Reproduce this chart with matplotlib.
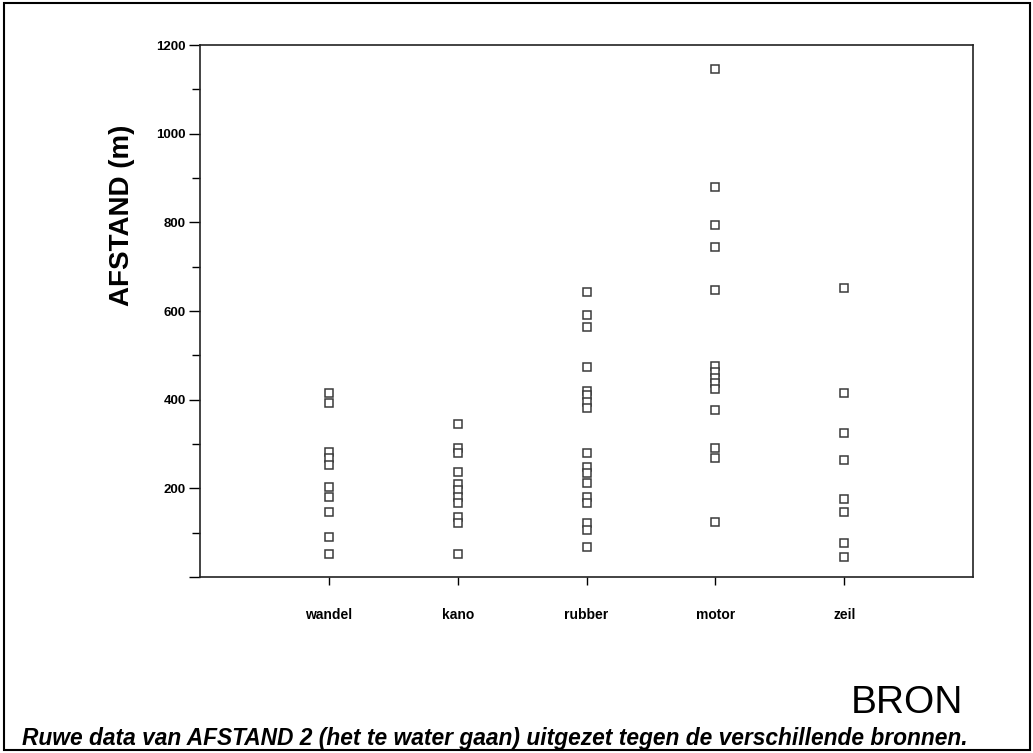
import numpy as np
import matplotlib.pyplot as plt
from matplotlib.patches import Rectangle

plt.rcParams['font.family'] = ['Liberation Sans', 'DejaVu Sans']

# bronnen en afstanden (m)
bron = ["wandel", "kano", "rubber", "motor", "zeil"]
wandel = [414, 392, 283, 268, 253, 204, 181, 147, 91, 53]
kano = [345, 292, 280, 237, 210, 196, 181, 166, 136, 121, 53]
rubber = [644, 592, 565, 474, 420, 410, 395, 381, 279, 249, 234, 211, 181, 166, 121, 106, 68]
motor = [1147, 880, 794, 745, 647, 476, 463, 450, 438, 425, 377, 290, 268, 125]
zeil = [651, 414, 324, 264, 177, 147, 76, 46]
yticks = [0, 200, 400, 600, 800, 1000, 1200]
ytick_labels = ["", "200", "400", "600", "800", "1000", "1200"]

fig = plt.figure(figsize=(10.33, 7.53), dpi=100)
ax = fig.add_axes([0.1936, 0.2337, 0.7484, 0.7065])

groups = [wandel, kano, rubber, motor, zeil]
for i, vals in enumerate(groups):
    ax.plot([i + 1] * len(vals), vals, linestyle="none", marker="s", markersize=6,
            markerfacecolor="white", markeredgecolor="#3a3a3a", markeredgewidth=1.1)

ax.set_xlim(0, 6)
ax.set_ylim(0, 1200)
ax.set_xticks(range(1, 6))
ax.set_xticklabels(bron, fontsize=10, fontweight="bold")
ax.set_yticks(yticks)
ax.set_yticklabels(ytick_labels, fontsize=9.5, fontweight="bold")
ax.set_yticks(range(100, 1200, 200), minor=True)
ax.tick_params(axis="y", which="major", direction="out", length=8, width=1, pad=2)
ax.tick_params(axis="y", which="minor", direction="out", length=6, width=1)
ax.tick_params(axis="x", which="major", direction="out", length=6, width=1, pad=16)
for s in ax.spines.values():
    s.set_linewidth(1.2)
    s.set_color("#222222")

fig.text(122 / 1033, 1 - 215 / 753, "AFSTAND (m)", rotation=90, ha="center", va="center",
         fontsize=20, fontweight="bold")
fig.text(963 / 1033, 1 - 703 / 753, "BRON", ha="right", va="center", fontsize=28)
fig.text(22 / 1033, 1 - 738 / 753,
         "Ruwe data van AFSTAND 2 (het te water gaan) uitgezet tegen de verschillende bronnen.",
         ha="left", va="center", fontsize=16.4, style="italic", fontweight="bold")

fig.patches.append(Rectangle((0.004, 0.004), 0.993, 0.992, transform=fig.transFigure,
                             fill=False, edgecolor="black", linewidth=1.5))

fig.savefig("out.png", dpi=100)
